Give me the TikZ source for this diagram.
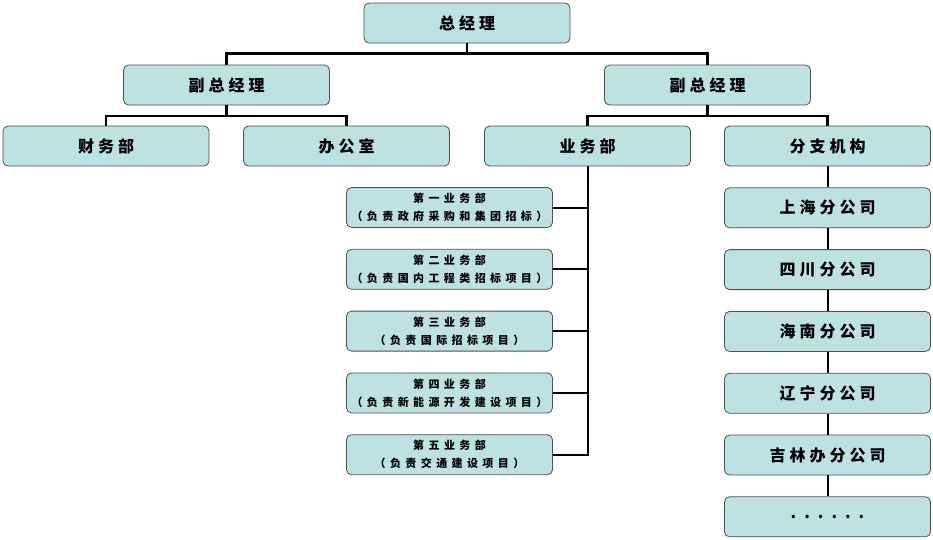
\documentclass[tikz,border=0pt]{standalone}
\usepackage{fontspec}
\newfontfamily\cjk{Noto Sans CJK SC}[LetterSpace=25]
\newfontfamily\cjksub{Noto Sans CJK SC}[LetterSpace=40]
\usetikzlibrary{positioning}
\definecolor{boxfill}{RGB}{190,225,225}
\definecolor{boxline}{RGB}{80,80,80}

\begin{document}
\begin{tikzpicture}[
    x=1pt, y=-1pt,
    node distance=21pt and 35pt,
    box/.style={draw=boxline, fill=boxfill, rounded corners=5pt, line width=0.8pt, minimum width=206pt, minimum height=40pt, inner sep=0pt, font=\cjk\bfseries\fontsize{16}{18}\selectfont},
    subbox/.style={box, align=center, font=\cjksub\bfseries\fontsize{11}{18}\selectfont},
    link/.style={line width=2.5pt},
    stub/.style={line width=2pt}
]
\useasboundingbox (0,0) rectangle (933,539);

\node[box] (gm) at (467,23) {总经理};
\node[box] (vpl) at (226.5,85) {副总经理};
\node[box] (vpr) at (707.5,85) {副总经理};
\node[box] (fin) at (106,146) {财务部};
\node[box] (off) at (346.5,146) {办公室};
\node[box] (biz) at (587.5,146) {业务部};
\node[box] (brh) at (827.5,146) {分支机构};

% business departments
\node[subbox] (sub1) at (449.5,207.5) {第一业务部\\（负责政府采购和集团招标）};
\node[subbox, below=of sub1] (sub2) {第二业务部\\（负责国内工程类招标项目）};
\node[subbox, below=of sub2] (sub3) {第三业务部\\（负责国际招标项目）};
\node[subbox, below=of sub3] (sub4) {第四业务部\\（负责新能源开发建设项目）};
\node[subbox, below=of sub4] (sub5) {第五业务部\\（负责交通建设项目）};

% branches
\node[box, below=of brh] (br1) {上海分公司};
\node[box, below=of br1] (br2) {四川分公司};
\node[box, below=of br2] (br3) {海南分公司};
\node[box, below=of br3] (br4) {辽宁分公司};
\node[box, below=of br4] (br5) {吉林办分公司};
\node[box, below=of br5] (br6) {\addfontfeature{LetterSpace=50}......};

\draw[link] (gm.south) -- ++(0,10) -| (vpl.north);
\draw[link] (gm.south) -- ++(0,10) -| (vpr.north);
\draw[link] (vpl.south) -- ++(0,10.5) -| (fin.north);
\draw[link] (vpl.south) -- ++(0,10.5) -| (off.north);
\draw[link] (vpr.south) -- ++(0,10.5) -| (biz.north);
\draw[link] (vpr.south) -- ++(0,10.5) -| (brh.north);

\draw[stub] (biz.south) |- (sub5.east);
\foreach \i in {1,...,4}
  \draw[stub] (sub\i.east) -- (sub\i.east -| biz.south);

\draw[stub] (brh) -- (br1);
\draw[stub] (br1) -- (br2);
\draw[stub] (br2) -- (br3);
\draw[stub] (br3) -- (br4);
\draw[stub] (br4) -- (br5);
\draw[stub] (br5) -- (br6);
\end{tikzpicture}
\end{document}
